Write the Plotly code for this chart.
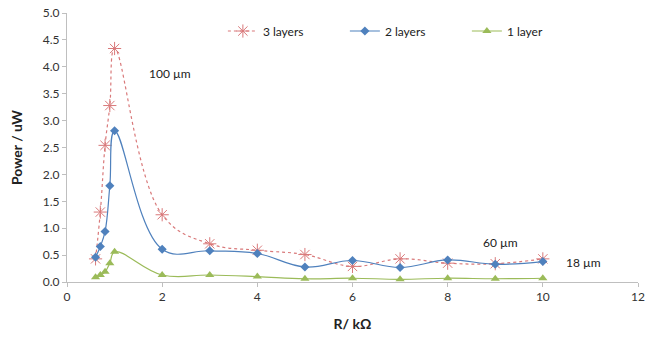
import plotly.graph_objects as go

R = [0.6, 0.7, 0.8, 0.9, 1.0, 2, 3, 4, 5, 6, 7, 8, 9, 10]
p3 = [0.43, 1.30, 2.54, 3.28, 4.34, 1.25, 0.71, 0.59, 0.51, 0.29, 0.43, 0.35, 0.34, 0.43]
p2 = [0.46, 0.66, 0.94, 1.79, 2.81, 0.61, 0.58, 0.53, 0.28, 0.40, 0.27, 0.41, 0.33, 0.38]
p1 = [0.09, 0.13, 0.19, 0.35, 0.56, 0.13, 0.13, 0.10, 0.06, 0.07, 0.05, 0.07, 0.06, 0.07]
names = ["3 layers", "2 layers", "1 layer"]
xticks = [0, 2, 4, 6, 8, 10, 12]
yticks = [0.0, 0.5, 1.0, 1.5, 2.0, 2.5, 3.0, 3.5, 4.0, 4.5, 5.0]
labels = [("100 µm", 2.16, 3.88), ("60 µm", 9.1, 0.73), ("18 µm", 10.85, 0.37)]

FONT = "Lato"
SMOOTH = 1.15
fig = go.Figure()
fig.add_trace(go.Scatter(
    x=R, y=p3, name=names[0], mode="lines+markers",
    line=dict(color="#D9797A", width=1.2, dash="dot", shape="spline", smoothing=SMOOTH),
    marker=dict(symbol="asterisk-open", size=11, color="#D9797A", line=dict(color="#D9797A", width=1))))
fig.add_trace(go.Scatter(
    x=R, y=p2, name=names[1], mode="lines+markers",
    line=dict(color="#4F81BD", width=1.2, shape="spline", smoothing=SMOOTH),
    marker=dict(symbol="diamond", size=7, color="#4F81BD")))
fig.add_trace(go.Scatter(
    x=R, y=p1, name=names[2], mode="lines+markers",
    line=dict(color="#9BBB59", width=1.2, shape="spline", smoothing=SMOOTH),
    marker=dict(symbol="triangle-up", size=8, color="#9BBB59")))

for t, x, y in labels:
    fig.add_annotation(x=x, y=y, text=t, showarrow=False, font=dict(family=FONT, size=12, color="#222"))

axis_common = dict(showgrid=False, zeroline=False, showline=True, linecolor="#BFBFBF",
                   ticks="outside", tickcolor="#BFBFBF", ticklen=4,
                   tickfont=dict(family=FONT, size=12, color="#333"))
fig.update_xaxes(range=[0, 12], tickvals=xticks, ticktext=[str(v) for v in xticks],
                 title=dict(text="<b>R/ kΩ</b>", font=dict(family=FONT, size=14, color="#222"), standoff=15),
                 **axis_common)
fig.update_yaxes(range=[0, 5], tickvals=yticks, ticktext=[f"{v:.1f}" for v in yticks],
                 title=dict(text="<b>Power / uW</b>", font=dict(family=FONT, size=14, color="#222"), standoff=16),
                 **axis_common)
fig.update_layout(
    width=659, height=338, margin=dict(l=67, r=21, t=13, b=56, autoexpand=False),
    paper_bgcolor="white", plot_bgcolor="white",
    legend=dict(orientation="h", x=0.273, y=0.933, xanchor="left", yanchor="middle",
                entrywidth=77, entrywidthmode="pixels",
                font=dict(family=FONT, size=12, color="#222"), bgcolor="rgba(0,0,0,0)"),
    font=dict(family=FONT),
)
fig.write_html("out.html")
